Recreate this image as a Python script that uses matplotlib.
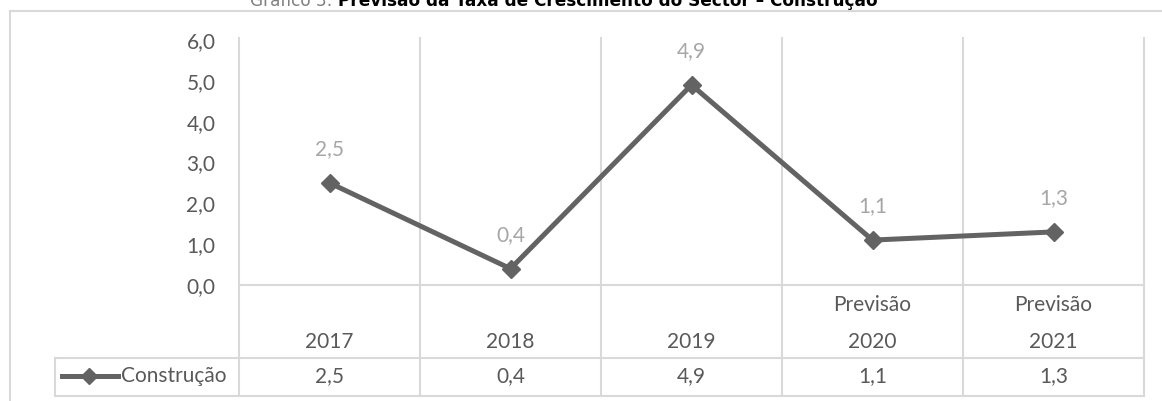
import numpy as np
import matplotlib
matplotlib.use("Agg")
import matplotlib.pyplot as plt
import matplotlib.transforms as mtransforms
from matplotlib.lines import Line2D

# ---- data -------------------------------------------------------------
years = ["2017", "2018", "2019", "2020", "2021"]
header_top = ["", "", "", "Previsão", "Previsão"]
values = [2.5, 0.4, 4.9, 1.1, 1.3]
series_name = "Construção"
y_ticks = [0, 1, 2, 3, 4, 5, 6]
title_prefix = "Gráfico 3:"
title_main = "Previsão da Taxa de Crescimento do Sector – Construção"

# ---- style ------------------------------------------------------------
W, H = 1162, 401
DPI = 100
GRID = "#d9d9d9"
LINE = "#636363"
TXT = "#595959"
LBL = "#a6a6a6"
FONT = ["Lato", "DejaVu Sans"]
FS = 15

plt.rcParams["font.family"] = FONT


def fx(x):
    return x / W


def fy(y):
    return 1 - y / H


def comma(v):
    return f"{v:.1f}".replace(".", ",")


fig = plt.figure(figsize=(W / DPI, H / DPI), dpi=DPI)
fig.patch.set_facecolor("white")

ax = fig.add_axes([fx(239), fy(285), fx(1144) - fx(239), fy(40) - fy(285)])
n = len(values)
xs = np.arange(n) + 0.5
ax.set_xlim(0, n)
ax.set_ylim(0, 6)
for s in ax.spines.values():
    s.set_visible(False)
ax.set_xticks([])
ax.set_yticks(y_ticks)
ax.set_yticklabels([comma(v) for v in y_ticks], color=TXT, fontsize=FS)
ax.tick_params(axis="y", length=0, pad=17)
ax.patch.set_alpha(0)

blend = mtransforms.blended_transform_factory(ax.transData, fig.transFigure)
lw_grid = 1.5

# vertical grid lines running through the chart and the table header
for i in range(n + 1):
    ax.add_line(Line2D([i, i], [fy(38), fy(396)], transform=blend,
                       color=GRID, lw=lw_grid, clip_on=False, zorder=1))
# zero line / top of table
ax.axhline(0, color=GRID, lw=lw_grid, zorder=1, clip_on=False)

# table row borders
for yy in (358, 396):
    fig.add_artist(Line2D([fx(55), fx(1144)], [fy(yy), fy(yy)],
                          color=GRID, lw=lw_grid))
fig.add_artist(Line2D([fx(55), fx(55)], [fy(358), fy(396)], color=GRID, lw=lw_grid))

# outer chart frame
fig.add_artist(Line2D([fx(10), fx(10)], [fy(10.5), 0], color=GRID, lw=lw_grid))
fig.add_artist(Line2D([fx(10), 1], [fy(10.5), fy(10.5)], color=GRID, lw=lw_grid))

# series line
ax.plot(xs, values, color=LINE, lw=3.6, marker="D", ms=9, mec=LINE,
        mfc=LINE, zorder=3, clip_on=False)
for x, v in zip(xs, values):
    ax.annotate(comma(v), (x, v), xytext=(0, 24.5), textcoords="offset points",
                ha="center", va="center", color=LBL, fontsize=FS)

# table text
for x, top, yr, v in zip(xs, header_top, years, values):
    if top:
        ax.text(x, fy(305), top, transform=blend, ha="center", va="center",
                color=TXT, fontsize=FS)
    ax.text(x, fy(342), yr, transform=blend, ha="center", va="center",
            color=TXT, fontsize=FS)
    ax.text(x, fy(376), comma(v), transform=blend, ha="center", va="center",
            color=TXT, fontsize=FS)

# legend key in the table
fig.add_artist(Line2D([fx(62), fx(118)], [fy(376), fy(376)], color=LINE, lw=3.6))
fig.add_artist(Line2D([fx(89)], [fy(376)], color=LINE, marker="D", ms=8.5,
                      mec=LINE, mfc=LINE, lw=0))
fig.text(fx(121), fy(376), series_name, ha="left", va="center", color=TXT,
         fontsize=FS)

# title (runs off the top edge)
TFS = 12.2
t1 = fig.text(fx(250), fy(6.5), title_prefix + " ", ha="left", va="baseline",
              color="#7f7f7f", fontsize=TFS, family="DejaVu Sans")
fig.canvas.draw()
bb = t1.get_window_extent(renderer=fig.canvas.get_renderer())
fig.text(bb.x1 / W, fy(6.5), title_main, ha="left", va="baseline",
         color="black", fontsize=TFS, family="DejaVu Sans", fontweight="bold")

fig.savefig("out.png", dpi=DPI, facecolor="white")
